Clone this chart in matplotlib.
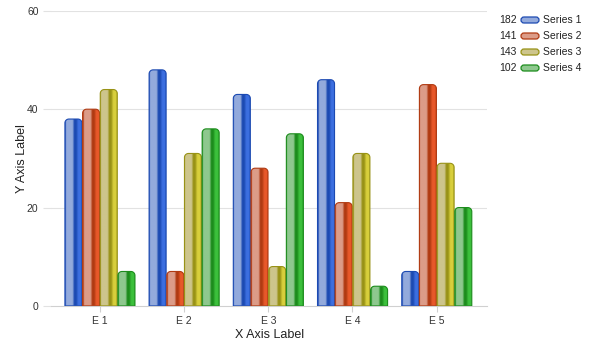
import numpy as np
import matplotlib
matplotlib.use("Agg")
import matplotlib.pyplot as plt
from matplotlib.path import Path
from matplotlib.patches import PathPatch, FancyBboxPatch
from matplotlib.colors import to_rgb

plt.rcParams["font.family"] = ["Liberation Sans", "DejaVu Sans"]

categories = ["E 1", "E 2", "E 3", "E 4", "E 5"]
series_names = ["Series 1", "Series 2", "Series 3", "Series 4"]
series1 = [38, 48, 43, 46, 7]
series2 = [40, 7, 28, 21, 45]
series3 = [44, 31, 8, 31, 29]
series4 = [7, 36, 35, 4, 20]
series = [series1, series2, series3, series4]

# (light, dark, bright) shades per series
shades = [
    ("#93aadc", "#1c4ab2", "#3c6fe0"),
    ("#dc9c88", "#b03a12", "#e8582a"),
    ("#cdc58c", "#989216", "#d8cf3c"),
    ("#8ec88e", "#1c8c1c", "#3cc03c"),
]

BAR_W = 0.21
RADIUS_PX = 4


def bar_gradient(light, dark, bright, n=60):
    stops = [(0.0, dark), (0.07, light), (0.42, light), (0.52, dark),
             (0.62, dark), (0.75, bright), (0.9, bright), (1.0, dark)]
    pos = [p for p, _ in stops]
    cols = np.array([to_rgb(c) for _, c in stops])
    x = np.linspace(0, 1, n)
    row = np.stack([np.interp(x, pos, cols[:, k]) for k in range(3)], axis=-1)
    return row[np.newaxis, :, :]


def top_rounded_path(x0, x1, h, rx, ry):
    ry = min(ry, h)
    t = np.linspace(0, np.pi / 2, 10)
    verts = [(x0, 0)]
    # left top corner
    verts += [(x0 + rx - rx * np.cos(a), h - ry + ry * np.sin(a)) for a in t]
    # right top corner
    verts += [(x1 - rx + rx * np.sin(a), h - ry + ry * np.cos(a)) for a in t]
    verts += [(x1, 0), (x0, 0)]
    codes = [Path.MOVETO] + [Path.LINETO] * (len(verts) - 2) + [Path.CLOSEPOLY]
    return Path(verts, codes)


fig = plt.figure(figsize=(6, 3.5), dpi=100)
ax = fig.add_axes([0.085, 0.126, 0.727, 0.843])
ax.set_xlim(-0.58, 4.6)
ax.set_ylim(0, 60)

# px per data unit, for the corner radius
px_x = 0.727 * 600 / 5.18
px_y = 0.843 * 350 / 60
rx, ry = RADIUS_PX / px_x, RADIUS_PX / px_y

for yv in [20, 40, 60]:
    ax.axhline(yv, color="#e2e2e2", lw=0.8, zorder=0)

for s, vals in enumerate(series):
    light, dark, bright = shades[s]
    grad = bar_gradient(light, dark, bright)
    for i, v in enumerate(vals):
        x0 = i + (s - 2) * BAR_W + 0.005
        x1 = x0 + BAR_W - 0.008
        path = top_rounded_path(x0, x1, v, rx, ry)
        img = ax.imshow(grad, extent=[x0, x1, 0, v], aspect="auto",
                        interpolation="bilinear", zorder=2)
        clip = PathPatch(path, transform=ax.transData, facecolor="none",
                         edgecolor="none")
        ax.add_patch(clip)
        img.set_clip_path(clip)
        ax.add_patch(PathPatch(path, facecolor="none", edgecolor=dark,
                               lw=0.8, zorder=3))

ax.set_xlim(-0.58, 4.6)
ax.set_ylim(0, 60)
ax.set_xticks(range(len(categories)))
ax.set_xticklabels(categories)
ax.set_yticks([0, 20, 40, 60])
for sp in ["top", "right", "left"]:
    ax.spines[sp].set_visible(False)
ax.spines["bottom"].set_color("#d0d0d0")
ax.tick_params(axis="x", colors="#d0d0d0", labelcolor="#333333",
               labelsize=7.5, length=4)
ax.tick_params(axis="y", colors="#e2e2e2", labelcolor="#333333",
               labelsize=7.5, length=6, pad=3)
ax.set_xlabel("X Axis Label", fontsize=9, color="#222222", labelpad=2)
ax.set_ylabel("Y Axis Label", fontsize=9, color="#222222", labelpad=-1)

# legend: series totals, pill swatch, name
for s, name in enumerate(series_names):
    light, dark, bright = shades[s]
    yc = 1 - (20 + 16 * s) / 350
    fig.text(517 / 600, yc, str(sum(series[s])), ha="right", va="center",
             fontsize=7.5, color="#222222")
    sw = FancyBboxPatch((521 / 600, yc - 3 / 350), 18 / 600, 6 / 350,
                        boxstyle="round,pad=0,rounding_size=0.005",
                        transform=fig.transFigure, facecolor=light,
                        edgecolor=dark, lw=0.9, mutation_aspect=600 / 350)
    fig.patches.append(sw)
    fig.text(543 / 600, yc, name, ha="left", va="center",
             fontsize=7.5, color="#222222")

fig.savefig("out.png", dpi=100)
